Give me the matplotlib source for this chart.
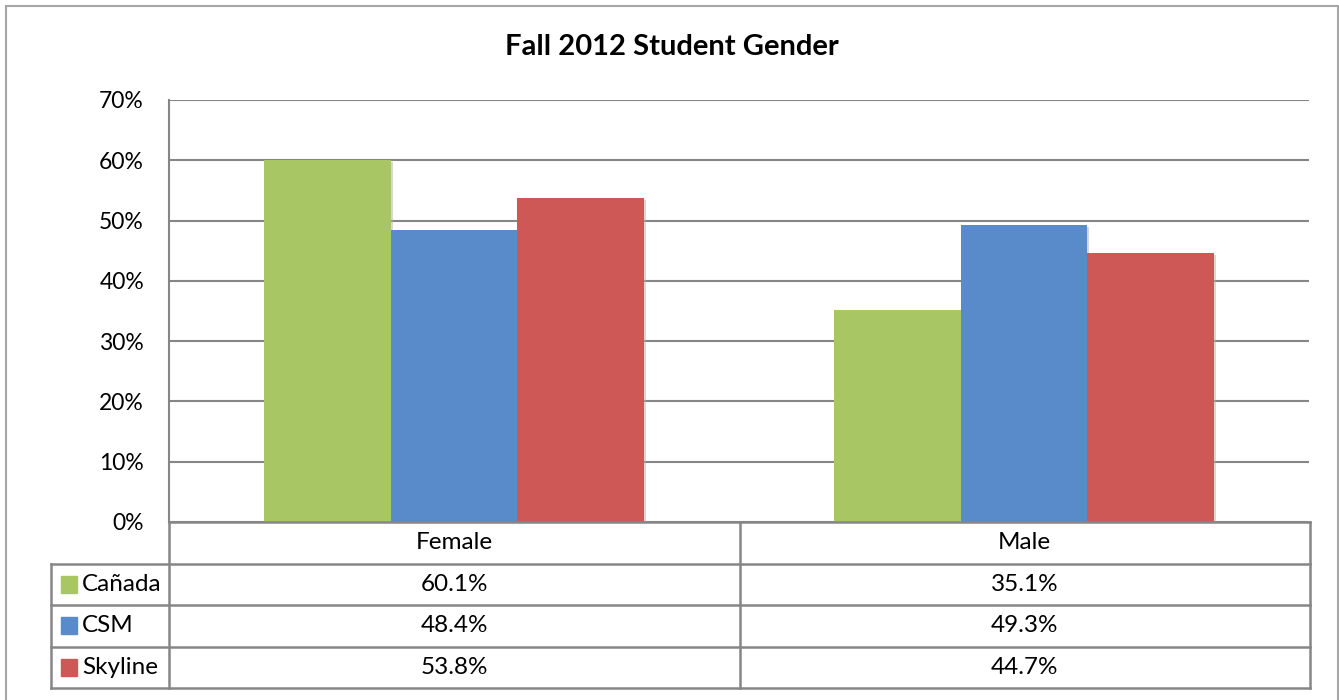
import numpy as np
import matplotlib.pyplot as plt
from matplotlib.patches import Rectangle
import matplotlib.patheffects as pe

categories = ['Female', 'Male']
series = ['Cañada', 'CSM', 'Skyline']
canada = [60.1, 35.1]
csm = [48.4, 49.3]
skyline = [53.8, 44.7]
colors = ['#A9C665', '#598BCA', '#CD5856']
yticks = [0, 10, 20, 30, 40, 50, 60, 70]

plt.rcParams['font.family'] = ['Lato', 'DejaVu Sans']

W, H = 1339, 700
fig = plt.figure(figsize=(W / 100, H / 100), dpi=100)


def fbox(x0, y0, x1, y1):
    return [x0 / W, 1 - y1 / H, (x1 - x0) / W, (y1 - y0) / H]


# outer chart border
fig.add_artist(Rectangle((6 / W, -0.02), (1332 / W), 1 - 6 / H + 0.02, transform=fig.transFigure,
                         fill=False, edgecolor='#a6a6a6', lw=1.5))

fig.text(672 / W, 1 - 47 / H, 'Fall 2012 Student Gender', ha='center', va='center',
         fontsize=21, fontweight='bold')

ax = fig.add_axes(fbox(169, 100, 1309, 522))
x = np.arange(len(categories))
bw = 1 / 4.5
data = [canada, csm, skyline]
shadow = [pe.SimplePatchShadow(offset=(1.5, -1.5), shadow_rgbFace='#b0b0b0', alpha=0.5), pe.Normal()]
for i, (vals, c) in enumerate(zip(data, colors)):
    ax.bar(x + (i - 1) * bw, vals, width=bw, color=c, zorder=3, path_effects=shadow)

ax.set_xlim(-0.5, 1.5)
ax.set_ylim(0, 70)
ax.set_yticks(yticks)
ax.set_yticklabels([f'{t}%' for t in yticks], fontsize=16.5)
ax.yaxis.grid(True, color='#868686', lw=1.5, zorder=0)
ax.set_xticks([])
ax.tick_params(axis='y', length=0, pad=18)
for s in ['top', 'right', 'bottom']:
    ax.spines[s].set_visible(False)
ax.spines['left'].set_color('#868686')
ax.spines['left'].set_linewidth(1.5)

# data table below plot
left_units = (169 - 51) / 570
tax = fig.add_axes(fbox(51, 522, 1310, 688))
tax.set_xlim(-0.5 - left_units, 1.5)
tax.set_ylim(4, 0)
tax.axis('off')
lc = '#868686'
lw = 1.8
xl, xr = -0.5 - left_units, 1.5
# horizontal lines
tax.plot([-0.5, xr], [0, 0], color=lc, lw=lw, clip_on=False)
for r in range(1, 5):
    tax.plot([xl, xr], [r, r], color=lc, lw=lw, clip_on=False)
# vertical lines
tax.plot([xl, xl], [1, 4], color=lc, lw=lw, clip_on=False)
for v in [-0.5, 0.5, 1.5]:
    tax.plot([v, v], [0, 4], color=lc, lw=lw, clip_on=False)

for j, cat in enumerate(categories):
    tax.text(j, 0.5, cat, ha='center', va='center', fontsize=17.5)
for i, (name, vals, c) in enumerate(zip(series, data, colors)):
    tax.add_patch(Rectangle((xl + 10 / 570, i + 1.5 - 0.2), 16 / 570, 0.4, color=c, clip_on=False))
    tax.text(xl + 31 / 570, i + 1.5, name, ha='left', va='center', fontsize=17.5)
    for j, v in enumerate(vals):
        tax.text(j, i + 1.5, f'{v:.1f}%', ha='center', va='center', fontsize=17.5)

fig.savefig('out.png', dpi=100)
